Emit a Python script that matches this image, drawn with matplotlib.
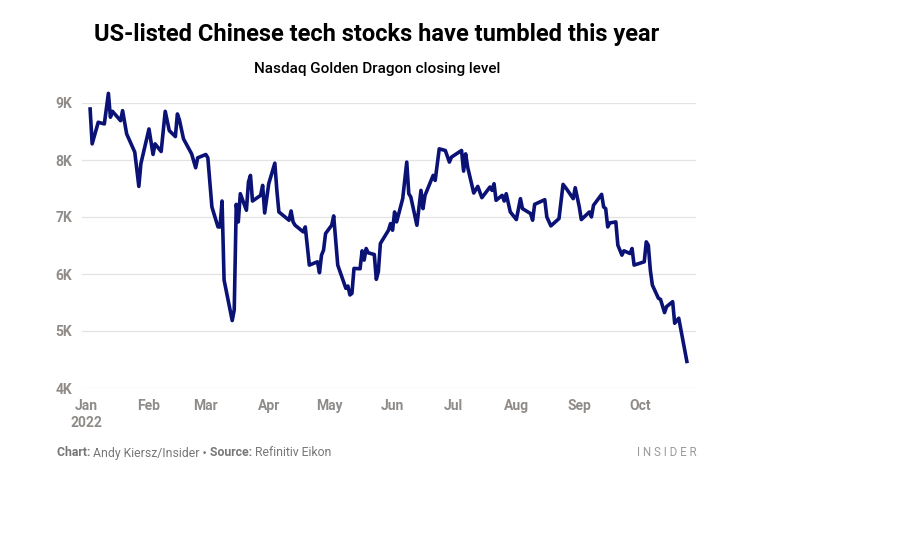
import pandas as pd
import matplotlib.pyplot as plt

plt.rcParams['font.family'] = ['Roboto', 'DejaVu Sans']

# Closing levels (approximate)
dates = [
    '2022-01-03', '2022-01-04', '2022-01-07', '2022-01-10', '2022-01-12', '2022-01-13',
    '2022-01-14', '2022-01-18', '2022-01-19', '2022-01-21', '2022-01-25', '2022-01-27',
    '2022-01-28', '2022-02-01', '2022-02-03', '2022-02-04', '2022-02-07', '2022-02-09',
    '2022-02-11', '2022-02-14', '2022-02-15', '2022-02-16', '2022-02-18', '2022-02-22',
    '2022-02-24', '2022-02-25', '2022-03-01', '2022-03-02', '2022-03-04', '2022-03-07',
    '2022-03-08', '2022-03-09', '2022-03-10', '2022-03-14', '2022-03-15', '2022-03-16',
    '2022-03-17', '2022-03-18', '2022-03-21', '2022-03-22', '2022-03-23', '2022-03-24',
    '2022-03-28', '2022-03-29', '2022-03-30', '2022-04-01', '2022-04-04', '2022-04-05',
    '2022-04-06', '2022-04-11', '2022-04-12', '2022-04-13', '2022-04-14', '2022-04-18',
    '2022-04-19', '2022-04-21', '2022-04-25', '2022-04-26', '2022-04-27', '2022-04-28',
    '2022-04-29', '2022-05-02', '2022-05-03', '2022-05-05', '2022-05-09', '2022-05-10',
    '2022-05-11', '2022-05-12', '2022-05-13', '2022-05-16', '2022-05-17', '2022-05-18',
    '2022-05-19', '2022-05-20', '2022-05-23', '2022-05-24', '2022-05-25', '2022-05-26',
    '2022-05-30', '2022-05-31', '2022-06-01', '2022-06-02', '2022-06-03', '2022-06-06',
    '2022-06-08', '2022-06-09', '2022-06-10', '2022-06-13', '2022-06-15', '2022-06-16',
    '2022-06-17', '2022-06-21', '2022-06-22', '2022-06-24', '2022-06-27', '2022-06-29',
    '2022-06-30', '2022-07-05', '2022-07-06', '2022-07-07', '2022-07-08', '2022-07-11',
    '2022-07-13', '2022-07-15', '2022-07-19', '2022-07-20', '2022-07-21', '2022-07-22',
    '2022-07-25', '2022-07-26', '2022-07-27', '2022-07-29', '2022-08-01', '2022-08-03',
    '2022-08-04', '2022-08-08', '2022-08-09', '2022-08-10', '2022-08-15', '2022-08-16',
    '2022-08-18', '2022-08-22', '2022-08-24', '2022-08-26', '2022-08-29', '2022-08-30',
    '2022-09-01', '2022-09-02', '2022-09-06', '2022-09-07', '2022-09-08', '2022-09-12',
    '2022-09-13', '2022-09-14', '2022-09-15', '2022-09-16', '2022-09-19', '2022-09-20',
    '2022-09-22', '2022-09-23', '2022-09-26', '2022-09-27', '2022-09-28', '2022-10-03',
    '2022-10-04', '2022-10-05', '2022-10-06', '2022-10-07', '2022-10-10', '2022-10-11',
    '2022-10-13', '2022-10-14', '2022-10-17', '2022-10-18', '2022-10-20', '2022-10-24',
]
closes = [
    8895, 8283, 8662, 8633, 9169, 8750,
    8854, 8690, 8866, 8458, 8138, 7537,
    7933, 8545, 8097, 8283, 8149, 8854,
    8516, 8411, 8808, 8703, 8371, 8108,
    7864, 8038, 8097, 8038, 7176, 6826,
    6826, 7280, 5894, 5183, 5370, 7222,
    6914, 7409, 7118, 7613, 7730, 7280,
    7380, 7555, 7071, 7584, 7945, 7467,
    7089, 6943, 7106, 6914, 6855, 6739,
    6826, 6156, 6214, 6022, 6331, 6418,
    6710, 6855, 7019, 6156, 5748, 5789,
    5632, 5661, 6098, 6092, 6407, 6244,
    6447, 6372, 6342, 5906, 6040, 6535,
    6768, 6884, 6768, 7089, 6914, 7322,
    7963, 7409, 7350, 6855, 7467, 7147,
    7380, 7730, 7642, 8196, 8167, 7963,
    8050, 8167, 7805, 8108, 7875, 7421,
    7537, 7339, 7526, 7467, 7584, 7292,
    7380, 7280, 7409, 7089, 6955, 7322,
    7147, 7060, 6943, 7222, 7304, 7001,
    6844, 6972, 7572, 7479, 7322, 7514,
    7176, 6955, 7089, 7001, 7205, 7397,
    7176, 7147, 6826, 6896, 6914, 6506,
    6331, 6407, 6360, 6447, 6156, 6214,
    6564, 6506, 6069, 5806, 5573, 5556,
    5323, 5428, 5515, 5136, 5224, 4466,
]

month_ticks = ['2022-01-01', '2022-02-01', '2022-03-01', '2022-04-01', '2022-05-01',
               '2022-06-01', '2022-07-01', '2022-08-01', '2022-09-01', '2022-10-01']
month_labels = ['Jan\n2022', 'Feb', 'Mar', 'Apr', 'May', 'Jun', 'Jul', 'Aug', 'Sep', 'Oct']
y_ticks = [4000, 5000, 6000, 7000, 8000, 9000]
y_labels = ['4K', '5K', '6K', '7K', '8K', '9K']

gray = '#8f8b88'
navy = '#0b1275'

fig = plt.figure(figsize=(9.17, 5.40), dpi=100)
ax = fig.add_axes([82 / 917, 1 - 388 / 540, (696 - 82) / 917, (388 - 103) / 540])

ax.plot(pd.to_datetime(dates), closes, color=navy, linewidth=2.6, clip_on=False,
        solid_joinstyle='round', zorder=3)

ax.set_xlim(pd.Timestamp('2021-12-30'), pd.Timestamp('2022-10-28 12:00'))
ax.set_ylim(4000, 9000)

ax.set_xticks(pd.to_datetime(month_ticks))
ax.set_xticklabels(month_labels, fontsize=10, fontweight='bold', color=gray,
                   linespacing=1.3, va='top')
ax.set_yticks(y_ticks)
ax.set_yticklabels(y_labels, fontsize=10, fontweight='bold', color=gray)
ax.tick_params(axis='both', length=0)
ax.tick_params(axis='x', pad=8)
ax.tick_params(axis='y', pad=7)

ax.grid(axis='y', color='#e3e3e3', linewidth=0.9)
ax.set_axisbelow(True)
for s in ax.spines.values():
    s.set_visible(False)

cx = 377 / 917
fig.text(cx, 1 - 35 / 540, 'US-listed Chinese tech stocks have tumbled this year',
         ha='center', va='center', fontsize=17, fontweight='bold', color='black')
fig.text(cx, 1 - 69 / 540, 'Nasdaq Golden Dragon closing level',
         ha='center', va='center', fontsize=11, fontweight='medium', color='black')

# footer, pieces chained left to right
renderer = fig.canvas.get_renderer()
x = 57 / 917
fy = 1 - 453 / 540
pieces = [('Chart: ', 'bold'), ('Andy Kiersz/Insider \u2022 ', 'normal'),
          ('Source: ', 'bold'), ('Refinitiv Eikon', 'normal')]
for txt, w in pieces:
    t = fig.text(x, fy, txt, ha='left', va='center', fontsize=8.8, fontweight=w, color='#777777')
    bb = t.get_window_extent(renderer=renderer)
    x += bb.width / 917

fig.text(697 / 917, fy, 'I N S I D E R', ha='right', va='center', fontsize=8.3,
         color='#9a9a9a')

fig.savefig('out.png', dpi=100)
